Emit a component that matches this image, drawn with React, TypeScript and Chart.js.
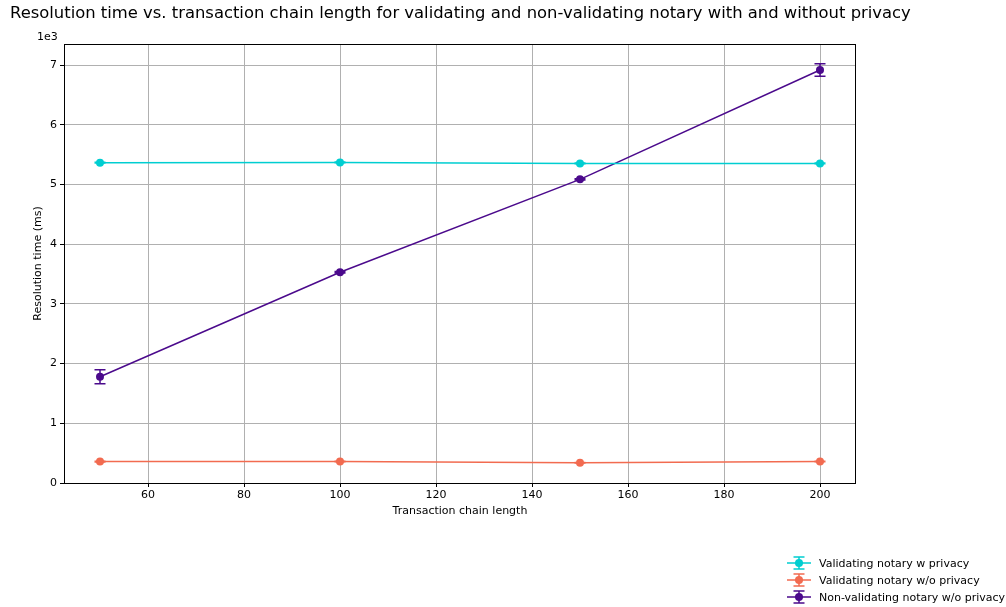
import { useEffect, useRef } from "react";
import { Chart, registerables } from "chart.js";

Chart.register(...registerables);

const FONT = "'DejaVu Sans', sans-serif";

const chartTitle =
  "Resolution time vs. transaction chain length for validating and non-validating notary with and without privacy";
const xAxisTitle = "Transaction chain length";
const yAxisTitle = "Resolution time (ms)";
const offsetLabel = "1e3";

const chainLengths = [50, 100, 150, 200];

const seriesLabels = [
  "Validating notary w privacy",
  "Validating notary w/o privacy",
  "Non-validating notary w/o privacy",
];
const seriesColors = ["#00CED1", "#F26B50", "#4B0A8C"];

const validatingPrivacy = [5365, 5368, 5352, 5352];
const validatingPrivacyErr = [6, 6, 6, 6];
const validatingNoPrivacy = [358, 360, 340, 360];
const validatingNoPrivacyErr = [5, 5, 5, 5];
const nonValidating = [1780, 3530, 5085, 6917];
const nonValidatingErr = [118, 12, 12, 105];

const xTicks = [60, 80, 100, 120, 140, 160, 180, 200];
const yTicks = [0, 1000, 2000, 3000, 4000, 5000, 6000, 7000];

const seriesValues = [validatingPrivacy, validatingNoPrivacy, nonValidating];
const seriesErrors = [validatingPrivacyErr, validatingNoPrivacyErr, nonValidatingErr];

const extrasPlugin = {
  id: "extras",
  afterDatasetsDraw(chart: any) {
    const ctx = chart.ctx;
    const xs = chart.scales.x;
    const ys = chart.scales.y;
    ctx.save();
    chart.data.datasets.forEach((ds: any, i: number) => {
      const errs = seriesErrors[i];
      ctx.strokeStyle = ds.borderColor;
      ctx.lineWidth = 1.5;
      ds.data.forEach((p: any, j: number) => {
        const px = xs.getPixelForValue(p.x);
        const top = ys.getPixelForValue(p.y + errs[j]);
        const bot = ys.getPixelForValue(p.y - errs[j]);
        ctx.beginPath();
        ctx.moveTo(px, top);
        ctx.lineTo(px, bot);
        ctx.moveTo(px - 5.5, top);
        ctx.lineTo(px + 5.5, top);
        ctx.moveTo(px - 5.5, bot);
        ctx.lineTo(px + 5.5, bot);
        ctx.stroke();
      });
    });
    ctx.restore();
  },
  afterDraw(chart: any) {
    const ctx = chart.ctx;
    const a = chart.chartArea;
    ctx.save();
    // spines
    ctx.strokeStyle = "#000";
    ctx.lineWidth = 1;
    ctx.strokeRect(Math.round(a.left) + 0.5, Math.round(a.top) + 0.5, Math.round(a.right - a.left) - 1, Math.round(a.bottom - a.top));
    // title
    ctx.fillStyle = "#000";
    ctx.font = `16.4px ${FONT}`;
    ctx.textBaseline = "middle";
    ctx.textAlign = "left";
    ctx.fillText(chartTitle, 10, 14);
    // offset text
    ctx.font = `11px ${FONT}`;
    ctx.fillText(offsetLabel, 37, 37);
    // legend
    const rows = [563, 580, 597];
    chart.data.datasets.forEach((ds: any, i: number) => {
      const y = rows[i];
      const cx = 799;
      ctx.strokeStyle = ds.borderColor;
      ctx.fillStyle = ds.borderColor;
      ctx.lineWidth = 1.5;
      ctx.beginPath();
      ctx.moveTo(787, y);
      ctx.lineTo(811, y);
      ctx.moveTo(cx, y - 6);
      ctx.lineTo(cx, y + 6);
      ctx.moveTo(cx - 5.5, y - 6);
      ctx.lineTo(cx + 5.5, y - 6);
      ctx.moveTo(cx - 5.5, y + 6);
      ctx.lineTo(cx + 5.5, y + 6);
      ctx.stroke();
      ctx.beginPath();
      ctx.arc(cx, y, 4, 0, Math.PI * 2);
      ctx.fill();
      ctx.fillStyle = "#000";
      ctx.font = `11px ${FONT}`;
      ctx.textAlign = "left";
      ctx.fillText(seriesLabels[i], 819, y + 1);
    });
    ctx.restore();
  },
};

export default function App() {
  const ref = useRef<HTMLCanvasElement>(null);
  useEffect(() => {
    document.body.style.margin = "0";
    const chart = new Chart(ref.current!, {
      type: "scatter",
      data: {
        datasets: seriesValues.map((vals, i) => ({
          label: seriesLabels[i],
          data: chainLengths.map((x, j) => ({ x, y: vals[j] })),
          showLine: true,
          borderColor: seriesColors[i],
          backgroundColor: seriesColors[i],
          borderWidth: 1.5,
          pointRadius: 4,
          pointBorderWidth: 0,
          pointHoverRadius: 4,
        })),
      },
      plugins: [extrasPlugin],
      options: {
        animation: false,
        responsive: false,
        devicePixelRatio: 1,
        layout: { padding: { left: 0, top: 44, right: 150, bottom: 80 } },
        plugins: {
          legend: { display: false },
          title: { display: false },
          tooltip: { enabled: false },
        },
        scales: {
          x: {
            type: "linear",
            min: 42.5,
            max: 207.5,
            afterBuildTicks: (s: any) => {
              s.ticks = xTicks.map((v) => ({ value: v }));
            },
            afterFit: (s: any) => {
              s.height = 44;
            },
            ticks: {
              color: "#000",
              font: { size: 11, family: FONT },
              padding: 2,
              maxRotation: 0,
              autoSkip: false,
            },
            grid: { color: "#b0b0b0", tickColor: "#000", tickLength: 4, lineWidth: 1 },
            border: { display: false },
            title: {
              display: true,
              text: xAxisTitle,
              color: "#000",
              font: { size: 11, family: FONT },
              padding: { top: 0, bottom: 9 },
            },
          },
          y: {
            type: "linear",
            min: 0,
            max: 7352,
            afterBuildTicks: (s: any) => {
              s.ticks = yTicks.map((v) => ({ value: v }));
            },
            afterFit: (s: any) => {
              s.width = 64;
            },
            ticks: {
              color: "#000",
              font: { size: 11, family: FONT },
              padding: 3,
              autoSkip: false,
              callback: (v: any) => String(Number(v) / 1000),
            },
            grid: { color: "#b0b0b0", tickColor: "#000", tickLength: 4, lineWidth: 1 },
            border: { display: false },
            title: {
              display: true,
              text: yAxisTitle,
              color: "#000",
              font: { size: 11, family: FONT },
              padding: { top: 32, bottom: 0 },
            },
          },
        },
      },
    });
    return () => chart.destroy();
  }, []);
  return (
    <div style={{ position: "absolute", left: 0, top: 0, width: 1006, height: 607 }}>
      <canvas ref={ref} width={1006} height={607} style={{ display: "block" }} />
    </div>
  );
}
